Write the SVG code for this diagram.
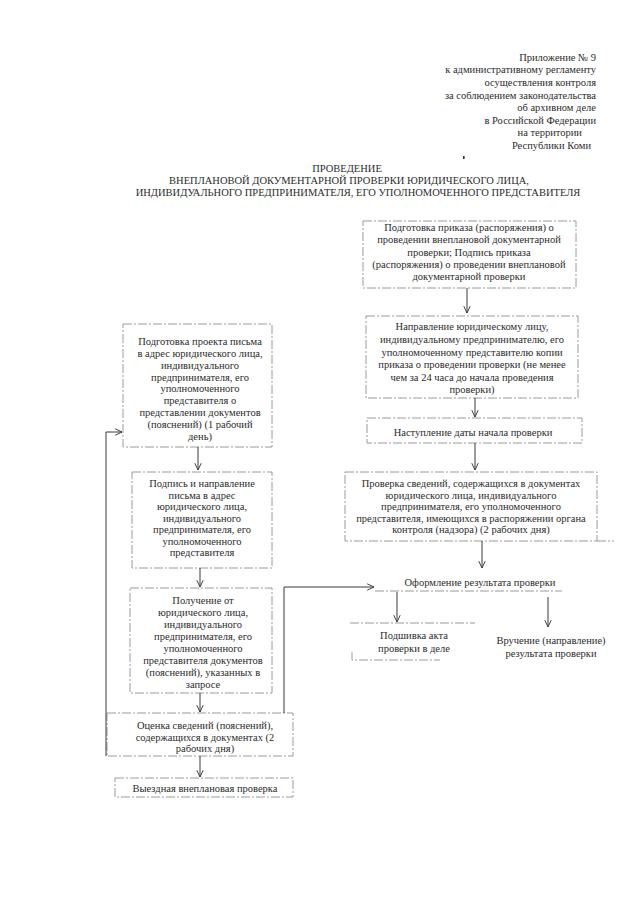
<svg xmlns="http://www.w3.org/2000/svg" width="640" height="905" viewBox="0 0 640 905">
<style>
.t{font-family:"Liberation Serif","Times New Roman",serif;font-size:10.5px;fill:#2b2b2b}
.c{text-anchor:middle}
.e{text-anchor:end}
.box{fill:none;stroke:#8e8e8e;stroke-width:0.9;stroke-dasharray:9 2 2 2}
.ln{fill:none;stroke:#8e8e8e;stroke-width:0.9;stroke-dasharray:9 2 2 2}
.conn{fill:none;stroke:#3a3a3a;stroke-width:1}
</style>
<defs>
<marker id="ah" viewBox="0 0 10 10" refX="9.5" refY="5" markerWidth="8" markerHeight="8" orient="auto" markerUnits="userSpaceOnUse">
<path d="M1,1 L9.5,5 L1,9" fill="none" stroke="#3a3a3a" stroke-width="1.2"/>
</marker>
</defs>
<rect width="640" height="905" fill="#ffffff"/>

<g id="header" class="t e">
<text x="596" y="60.5">Приложение № 9</text>
<text x="596" y="73">к административному регламенту</text>
<text x="596" y="85.5">осуществления контроля</text>
<text x="596" y="98.5">за соблюдением законодательства</text>
<text x="596" y="110.5">об архивном деле</text>
<text x="596" y="123.5">в Российской Федерации</text>
<text x="582" y="135.5">на территории</text>
<text x="591" y="148.5">Республики Коми</text>
</g>
<rect x="463" y="156" width="1.6" height="3" fill="#333"/>

<g id="title" class="t c">
<text x="347" y="172">ПРОВЕДЕНИЕ</text>
<text x="349" y="184">ВНЕПЛАНОВОЙ ДОКУМЕНТАРНОЙ ПРОВЕРКИ ЮРИДИЧЕСКОГО ЛИЦА,</text>
<text x="358" y="196">ИНДИВИДУАЛЬНОГО ПРЕДПРИНИМАТЕЛЯ, ЕГО УПОЛНОМОЧЕННОГО ПРЕДСТАВИТЕЛЯ</text>
</g>

<g id="n_prikaz">
<rect class="box" x="363" y="221" width="213" height="67"/>
<g class="t c">
<text x="469" y="231">Подготовка приказа (распоряжения) о</text>
<text x="469" y="243">проведении внеплановой документарной</text>
<text x="469" y="255.5">проверки; Подпись приказа</text>
<text x="469" y="268">(распоряжения) о проведении внеплановой</text>
<text x="469" y="280">документарной проверки</text>
</g>
</g>

<g id="n_napravlenie">
<rect class="box" x="366" y="316" width="212" height="82"/>
<g class="t c">
<text x="472" y="330">Направление юридическому лицу,</text>
<text x="472" y="343">индивидуальному предпринимателю, его</text>
<text x="472" y="356">уполномоченному представителю копии</text>
<text x="472" y="368">приказа о проведении проверки (не менее</text>
<text x="472" y="381">чем за 24 часа до начала проведения</text>
<text x="472" y="393">проверки)</text>
</g>
</g>

<g id="n_nastuplenie">
<rect class="box" x="367" y="418" width="215" height="25"/>
<text class="t c" x="473" y="436">Наступление даты начала проверки</text>
</g>

<g id="n_proverka">
<rect class="box" x="345" y="472" width="252" height="69"/>
<line class="ln" x1="597" y1="541" x2="614" y2="541"/>
<g class="t c">
<text x="471" y="487">Проверка сведений, содержащихся в документах</text>
<text x="471" y="498.5">юридического лица, индивидуального</text>
<text x="471" y="510">предпринимателя, его уполномоченного</text>
<text x="471" y="521.5">представителя, имеющихся в распоряжении органа</text>
<text x="471" y="533">контроля (надзора) (2 рабочих дня)</text>
</g>
</g>

<g id="n_oformlenie">
<line class="ln" x1="375" y1="591" x2="562" y2="591"/>
<text class="t c" x="480" y="586">Оформление результата проверки</text>
</g>

<g id="n_podshivka">
<line class="ln" x1="350" y1="623" x2="475" y2="623"/>
<path class="ln" d="M352,652 V660 H440"/>
<g class="t c">
<text x="414" y="639">Подшивка акта</text>
<text x="414" y="652">проверки в деле</text>
</g>
</g>

<g id="n_vruchenie" class="t c">
<text x="551" y="644">Вручение (направление)</text>
<text x="551" y="657">результата проверки</text>
</g>

<g id="n_podgotovka_pisma">
<rect class="box" x="123" y="324" width="149" height="123"/>
<g class="t c">
<text x="200" y="345">Подготовка проекта письма</text>
<text x="200" y="357">в адрес юридического лица,</text>
<text x="200" y="368.5">индивидуального</text>
<text x="200" y="380.5">предпринимателя, его</text>
<text x="200" y="392">уполномоченного</text>
<text x="200" y="404">представителя о</text>
<text x="200" y="416">представлении документов</text>
<text x="200" y="428">(пояснений) (1 рабочий</text>
<text x="200" y="439.5">день)</text>
</g>
</g>

<g id="n_podpis_pisma">
<rect class="box" x="132" y="472" width="140" height="96"/>
<g class="t c">
<text x="202" y="487">Подпись и направление</text>
<text x="202" y="498.5">письма в адрес</text>
<text x="202" y="510">юридического лица,</text>
<text x="202" y="521.5">индивидуального</text>
<text x="202" y="533">предпринимателя, его</text>
<text x="202" y="544.5">уполномоченного</text>
<text x="202" y="556">представителя</text>
</g>
</g>

<g id="n_poluchenie">
<rect class="box" x="130" y="588" width="142" height="105"/>
<g class="t c">
<text x="203" y="603.5">Получение от</text>
<text x="203" y="615.5">юридического лица,</text>
<text x="203" y="628">индивидуального</text>
<text x="203" y="640">предпринимателя, его</text>
<text x="203" y="652">уполномоченного</text>
<text x="203" y="664">представителя документов</text>
<text x="203" y="676">(пояснений), указанных в</text>
<text x="203" y="688">запросе</text>
</g>
</g>

<g id="n_ocenka">
<rect class="box" x="107" y="713" width="186" height="43"/>
<g class="t c">
<text x="205" y="728.5">Оценка сведений (пояснений),</text>
<text x="205" y="740.5">содержащихся в документах (2</text>
<text x="205" y="752">рабочих дня)</text>
</g>
</g>

<g id="n_vyezdnaya">
<rect class="box" x="115" y="778" width="178" height="19"/>
<text class="t c" x="205" y="791.5">Выездная внеплановая проверка</text>
</g>

<g id="connectors" class="conn">
<line x1="467" y1="288" x2="467" y2="313" marker-end="url(#ah)"/>
<line x1="475" y1="398" x2="475" y2="417" marker-end="url(#ah)"/>
<line x1="475" y1="443" x2="475" y2="470" marker-end="url(#ah)"/>
<line x1="482" y1="541" x2="482" y2="568" marker-end="url(#ah)"/>
<line x1="397" y1="592" x2="397" y2="622" marker-end="url(#ah)"/>
<line x1="548" y1="597" x2="548" y2="627" marker-end="url(#ah)"/>
<line x1="198" y1="447" x2="198" y2="470" marker-end="url(#ah)"/>
<line x1="200" y1="568" x2="200" y2="587" marker-end="url(#ah)"/>
<line x1="200" y1="693" x2="200" y2="712" marker-end="url(#ah)"/>
<line x1="200" y1="756" x2="200" y2="777" marker-end="url(#ah)"/>
<path d="M106,756 V432 H122" marker-end="url(#ah)"/>
<path d="M284,713 V587 H374" marker-end="url(#ah)"/>
</g>
</svg>
